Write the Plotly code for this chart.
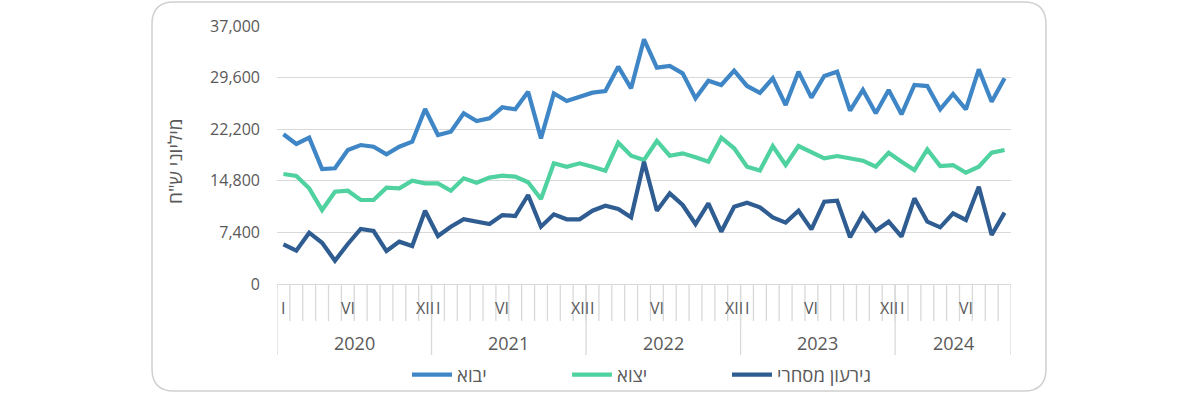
import plotly.graph_objects as go

years = ["2020", "2021", "2022", "2023", "2024"]
months_per_year = [12, 12, 12, 12, 9]
roman = ["I", "II", "III", "IV", "V", "VI", "VII", "VIII", "IX", "X", "XI", "XII"]
shown_months = ["I", "VI", "XII"]

imports = [21470, 20080, 20980, 16490, 16590, 19220, 19930, 19690, 18600, 19690, 20410, 25100,
           21370, 21840, 24480, 23370, 23760, 25340, 25050, 27580, 20890, 27340, 26240, 26770,
           27440, 27680, 31170, 28060, 35090, 31030, 31260, 30210, 26630, 29160, 28540, 30590,
           28400, 27400, 29500, 25670, 30450, 26720, 29830, 30450, 24860, 27820, 24480, 27820,
           24330, 28540, 28390, 25050, 27250, 25050, 30780, 26150, 29500]
exports = [15770, 15490, 13720, 10610, 13240, 13380, 12050, 12050, 13810, 13720, 14810, 14440,
           14440, 13380, 15160, 14530, 15250, 15530, 15390, 14580, 12190, 17310, 16820, 17310,
           16820, 16250, 20270, 18400, 17780, 20510, 18400, 18740, 18170, 17540, 20980, 19460,
           16820, 16270, 19790, 17060, 19790, 18970, 18020, 18350, 18020, 17680, 16820, 18830,
           17540, 16350, 19310, 16920, 17060, 15960, 16820, 18830, 19220]
deficit = [5690, 4780, 7360, 5920, 3340, 5740, 7890, 7600, 4730, 6070, 5450, 10510,
           6880, 8220, 9280, 8940, 8600, 9890, 9750, 12760, 8220, 9990, 9280, 9280,
           10510, 11230, 10760, 9560, 17540, 10510, 13000, 11330, 8600, 11570, 7500, 11090,
           11660, 11000, 9560, 8800, 10510, 7840, 11800, 11950, 6700, 10040, 7640, 8940,
           6790, 12290, 8940, 8130, 10130, 9180, 13950, 7030, 10230]

series_names = ["יבוא", "יצוא", "גירעון מסחרי"]
series_colors = ["#3F86C7", "#4FD1A0", "#2F5D91"]
y_ticks = [0, 7400, 14800, 22200, 29600, 37000]
y_title = "מיליוני ש\"ח"

month_labels = []
for y, n in zip(years, months_per_year):
    for m in range(n):
        month_labels.append(roman[m])
x_idx = list(range(len(month_labels)))
N = len(x_idx)

FONT = "Open Sans, Noto Sans, sans-serif"
TXT = "#595959"
GRID = "#D9D9D9"

fig = go.Figure()
for name, vals, col in zip(series_names, [imports, exports, deficit], series_colors):
    fig.add_trace(go.Scatter(x=x_idx, y=vals, mode="lines", name=name,
                             line=dict(color=col, width=4.2), hoverinfo="y+name"))

# page-pixel geometry (body margin removed via post_script)
L, R, T, B = 277, 1011, 26, 284
W, H = R - L, B - T
def px(X):
    return (X - L) / W
def py(Y):
    return (B - Y) / H

shapes = []
month_bottom = py(321)
year_bottom = py(355)
for k in range(1, N):
    shapes.append(dict(type="line", xref="x", yref="paper", x0=k - 0.5, x1=k - 0.5,
                       y0=0, y1=month_bottom, line=dict(color=GRID, width=1.3)))
edges = [-0.5]
acc = 0
for n in months_per_year:
    acc += n
    edges.append(acc - 0.5)
for e in edges:
    shapes.append(dict(type="line", xref="x", yref="paper", x0=e, x1=e,
                       y0=0, y1=year_bottom, line=dict(color=GRID, width=1.3)))

bx0, bx1, by0, by1, r = 152, 1046, 2, 391, 22
path = (f"M {px(bx0 + r)},{py(by0)} L {px(bx1 - r)},{py(by0)} "
        f"Q {px(bx1)},{py(by0)} {px(bx1)},{py(by0 + r)} "
        f"L {px(bx1)},{py(by1 - r)} Q {px(bx1)},{py(by1)} {px(bx1 - r)},{py(by1)} "
        f"L {px(bx0 + r)},{py(by1)} Q {px(bx0)},{py(by1)} {px(bx0)},{py(by1 - r)} "
        f"L {px(bx0)},{py(by0 + r)} Q {px(bx0)},{py(by0)} {px(bx0 + r)},{py(by0)} Z")
shapes.append(dict(type="path", xref="paper", yref="paper", path=path,
                   line=dict(color="#D0D0D0", width=1.5), fillcolor="rgba(0,0,0,0)"))

annotations = []
for i, lab in enumerate(month_labels):
    if lab in shown_months:
        annotations.append(dict(x=i, y=py(308), xref="x", yref="paper", text=lab,
                                showarrow=False, font=dict(size=16, color=TXT, family=FONT),
                                xanchor="center", yanchor="middle"))
start = 0
for y, n in zip(years, months_per_year):
    annotations.append(dict(x=start + (n - 1) / 2, y=py(343), xref="x", yref="paper", text=y,
                            showarrow=False, font=dict(size=18, color=TXT, family=FONT),
                            xanchor="center", yanchor="middle"))
    start += n
annotations.append(dict(x=px(175), y=py(161), xref="paper", yref="paper", text=y_title,
                        textangle=-90, showarrow=False,
                        font=dict(size=19, color=TXT, family=FONT),
                        xanchor="center", yanchor="middle"))

fig.update_layout(
    width=1200, height=395,
    margin=dict(l=L, r=1200 - L - W, t=T, b=395 - T - H, autoexpand=False),
    paper_bgcolor="white", plot_bgcolor="white",
    font=dict(family=FONT, color=TXT),
    showlegend=True,
    legend=dict(orientation="h", x=px(407), xanchor="left", y=py(375), yanchor="middle",
                font=dict(size=18.5, color=TXT, family=FONT),
                entrywidth=105, entrywidthmode="pixels", itemwidth=40,
                bgcolor="rgba(0,0,0,0)"),
    xaxis=dict(range=[-0.5, N - 0.5], showgrid=False, zeroline=False, showticklabels=False,
               ticks="", showline=True, linecolor=GRID, linewidth=1.3, fixedrange=True),
    yaxis=dict(range=[0, 37000], tickvals=y_ticks, tickformat=",", showgrid=True,
               gridcolor=GRID, gridwidth=1.3, zeroline=False, showline=False,
               tickfont=dict(size=16, color=TXT, family=FONT), ticklabelstandoff=16,
               fixedrange=True),
    shapes=shapes,
    annotations=annotations,
)

fig.write_html("out.html", config={"displayModeBar": False},
               post_script="document.body.style.margin='0';")
